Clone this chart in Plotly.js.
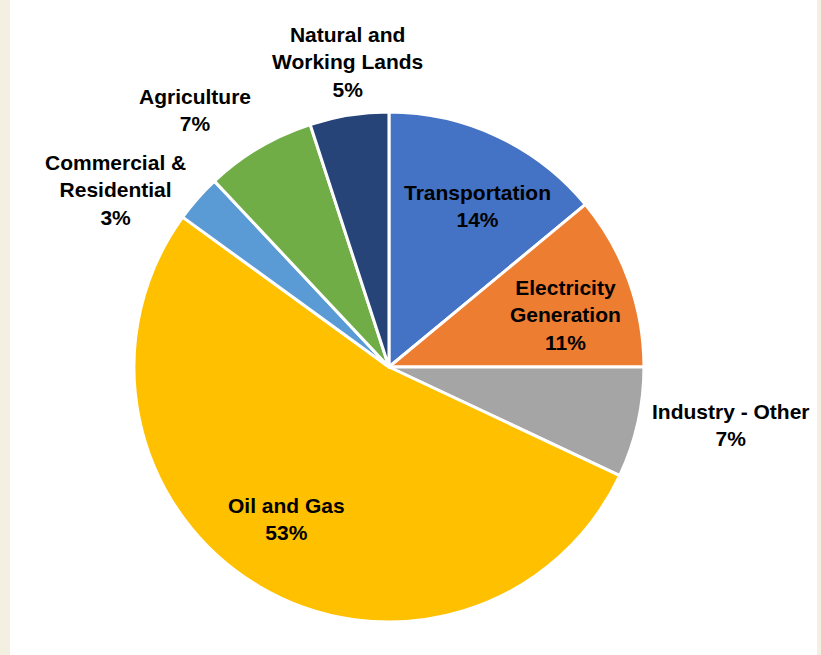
<!DOCTYPE html>
<html>
<head>
<meta charset="utf-8">
<script src="https://cdn.plot.ly/plotly-3.0.1.min.js"></script>
<style>
  html, body { margin: 0; padding: 0; background: #f3efe1; width: 821px; height: 655px; overflow: hidden; }
  #chart { position: absolute; left: 10px; top: 0; width: 807px; height: 655px; background: #ffffff; }
</style>
</head>
<body>
<div id="chart"></div>
<script>
const categories = ["Transportation", "Electricity Generation", "Industry - Other", "Oil and Gas", "Commercial & Residential", "Agriculture", "Natural and Working Lands"];
const displayLabels = ["Transportation", "Electricity<br>Generation", "Industry - Other", "Oil and Gas", "Commercial &<br>Residential", "Agriculture", "Natural and<br>Working Lands"];
const shares = [14, 11, 7, 53, 3, 7, 5];
const colors = ["#4472C4", "#ED7D31", "#A5A5A5", "#FFC000", "#5B9BD5", "#70AD47", "#264478"];
const positions = ["inside", "inside", "outside", "inside", "outside", "outside", "outside"];

const W = 807, H = 655;
const domain = { x: [0.1536, 0.7856], y: [0.0504, 0.829] };
const font = { family: "Liberation Sans, Arial, sans-serif", size: 21, color: "#000000", weight: "bold" };
const insideRadius = 0.72, outsideRadius = 1.05;
const insideAngleShift = 3.5 * Math.PI / 180;

const trace = {
  type: "pie",
  labels: categories,
  values: shares,
  textinfo: "none",
  sort: false,
  direction: "clockwise",
  rotation: 0,
  marker: { colors: colors, line: { color: "#ffffff", width: 3 } },
  domain: domain,
  hoverinfo: "none"
};

// Slice labels placed along each slice's mid-angle, derived from the data
const total = shares.reduce((a, b) => a + b, 0);
const cx = (domain.x[0] + domain.x[1]) / 2;
const cy = (domain.y[0] + domain.y[1]) / 2;
const R = Math.min(W * (domain.x[1] - domain.x[0]), H * (domain.y[1] - domain.y[0])) / 2;
let cum = 0;
const annotations = shares.map((v, i) => {
  const outside = positions[i] === "outside";
  const theta = (cum + v / 2) / total * 2 * Math.PI + (outside ? 0 : insideAngleShift);
  cum += v;
  const s = Math.sin(theta), c = Math.cos(theta);
  const f = outside ? outsideRadius : insideRadius;
  let xanchor = "center", yanchor = "middle";
  if (outside) {
    xanchor = s > 0.3 ? "left" : (s < -0.3 ? "right" : "center");
    yanchor = c > 0.7 ? "bottom" : (c < -0.7 ? "top" : "middle");
  }
  return {
    xref: "paper", yref: "paper",
    x: cx + R * f * s / W,
    y: cy + R * f * c / H,
    xanchor: xanchor, yanchor: yanchor,
    text: displayLabels[i] + "<br>" + Math.round(v / total * 100) + "%",
    showarrow: false,
    align: "center",
    font: font
  };
});

const layout = {
  width: W,
  height: H,
  margin: { l: 0, r: 0, t: 0, b: 0 },
  paper_bgcolor: "#ffffff",
  showlegend: false,
  annotations: annotations
};

Plotly.newPlot("chart", [trace], layout, { staticPlot: true, displayModeBar: false });
</script>
</body>
</html>
